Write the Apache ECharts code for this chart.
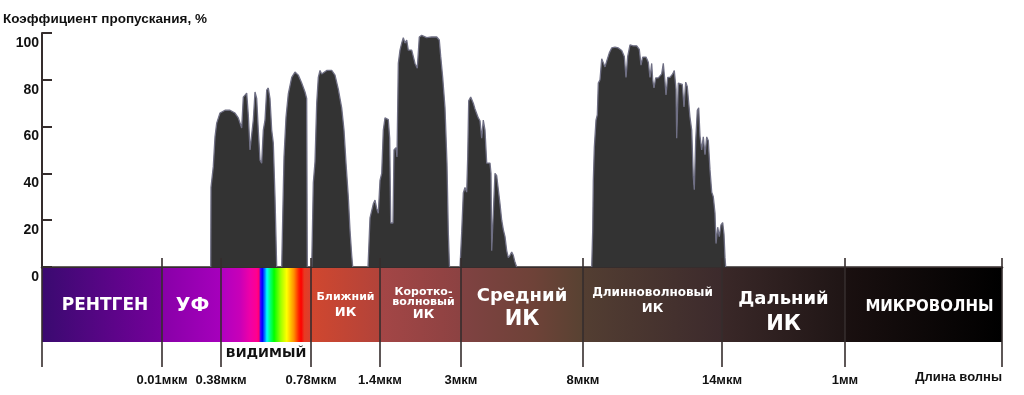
<!DOCTYPE html>
<html>
<head>
<meta charset="utf-8">
<style>
  html, body { margin: 0; padding: 0; background: #ffffff; }
  #chart { width: 1024px; height: 395px; }
</style>
<script src="https://cdn.jsdelivr.net/npm/echarts@6/dist/echarts.min.js"></script>
</head>
<body>
<div id="chart"></div>
<script>
// ---------- DATA ----------
// positions on the chart's (non-uniform) wavelength scale, 0 .. 960
const bandEdges = [0, 120, 179, 269, 338, 419, 541, 680, 803, 960];
const tickLabels = ['', '0.01мкм', '0.38мкм', '0.78мкм', '1.4мкм', '3мкм', '8мкм', '14мкм', '1мм', ''];
const bandNames = ['РЕНТГЕН', 'УФ', 'ВИДИМЫЙ', 'Ближний\nИК', 'Коротко-\nволновый\nИК',
                   'Средний\nИК', 'Длинноволновый\nИК', 'Дальний\nИК', 'МИКРОВОЛНЫ'];
const yTicks = [0, 20, 40, 60, 80, 100];

// transmission curve samples (position on scale, % transmission); null = gap
const samplePos = [
  168.7, 169, 171.3, 173, 174.7, 178, 183, 188, 193, 196.3, 199.7, 201.3, 204.7, 206.3, 208, 209.7,
  211.3, 213, 214.7, 216.3, 218, 219.7, 221.3, 223, 224.7, 226.3, 228, 229.7, 231.3, 233, 234.7,
  null,
  239.7, 240.7, 242, 244, 246.3, 249.7, 253, 256.3, 259.7, 263, 264.7, 265.3,
  null,
  269.7, 271.3, 273, 274.7, 276.3, 278, 279.7, 281.3, 284.7, 289.7, 293, 296.3, 299.7, 302, 304,
  306.3, 308, 309.7, 310.7,
  null,
  326, 328, 331.3, 333, 334.7, 336.3, 338, 339.7, 341.3, 343, 344.7, 346.3, 347.7, 348.7, 351, 352,
  354, 355, 356.3, 358, 359.7, 361.3, 363, 364.7, 366.3, 369.7, 373, 375.3, 377.3, 379.7, 384.7,
  389.7, 394.7, 397.3, 398.7, 400.7, 403, 405, 406.3, 407.5,
  null,
  418, 419.7, 421.3, 423, 424.7, 425.7, 426.7, 428.7, 431.3, 433, 434.7, 436.3, 438, 439.7, 441.3,
  443, 444.7, 448, 449, 449.7, 451.3, 453, 454.7, 456.3, 458, 459.7, 461.3, 463, 464.7, 466.3, 468,
  469.7, 471.3, 473, 474.7,
  null,
  549.7, 550.7, 551.3, 552.3, 554, 555.3, 556.3, 558, 559.7, 561.3, 563, 564.7, 567.3, 569.7, 573,
  576.3, 579.7, 582.3, 584, 585.7, 588, 591.3, 594.7, 597.3, 599, 600.7, 604, 606.3, 608, 609.7,
  610.7, 612, 613.7, 616.3, 619.7, 621.3, 623, 624, 625.7, 628, 630.7, 632.3, 634, 634.7, 636.3,
  638, 640.3, 642, 643.7, 645.3, 648, 649.7, 651.3, 652.3, 653.7, 655.3, 656.7, 658, 659.7, 661.3,
  663, 664.7, 666.3, 668, 669.7, 671.3, 673, 674, 675.7, 677.3, 679, 680.7, 682, 683, 683.7
];
const transmission = [
  0, 34, 43, 55.6, 61.5, 65.8, 67, 67, 65.8, 63.7, 59.4, 72.6, 74.3, 65, 50, 50,
  62.8, 74.8, 72, 58.5, 45.7, 44.4, 58.5, 62.8, 75.6, 76.5, 72, 58.5, 53, 30, 0,
  null,
  0, 21, 47, 64, 74, 81, 83.3, 82, 78.6, 74.8, 72, 0,
  null,
  0, 36, 45, 70, 81, 84, 82.5, 83, 84, 84, 82, 76, 68, 58.5, 44.4,
  30, 15.8, 5, 0,
  null,
  0, 21, 27, 28.6, 25, 23, 37, 40, 58.5, 63.7, 64, 63, 55, 18.8, 18.8, 50,
  51, 47, 87, 92.7, 95.7, 98, 95.7, 97, 92.7, 92.7, 87, 85, 98.3, 99, 98,
  98.3, 98.3, 97, 90, 81, 68, 44, 15, 0,
  null,
  0, 15, 31.6, 34, 32, 47, 71, 72.6, 70, 67.5, 68, 63.7, 62.5, 55, 62.8,
  58.5, 44.4, 44.4, 40, 7, 7, 40, 39, 38.5, 27, 20, 16, 13, 7, 4, 5,
  6.4, 5, 2, 0,
  null,
  0, 15.8, 37, 51, 62.8, 65, 78.6, 80, 89, 89.5, 85.5, 88, 91.5, 93.6, 94,
  93.6, 92.5, 90, 81, 90, 94.9, 94.5, 94.5, 93, 86.3, 89.7, 89.7, 87.5, 81, 87,
  80, 76.5, 80.8, 80.8, 82.5, 87, 79, 73.5, 81, 81, 82.5, 84, 76, 55, 78.6,
  79, 78, 68.4, 79, 77, 64, 58.5, 38.5, 33, 54, 67, 68, 56, 50, 55.6,
  48, 55.6, 54, 41.5, 32, 30, 23, 10, 17, 13, 18, 19, 14, 4, 0
];

// ---------- STYLES ----------
const FONT = '"Liberation Sans", Arial, sans-serif';
const WIDE = '"DejaVu Sans", Verdana, sans-serif';
const AXIS_COLOR = '#352d2d';

function grad(stops) {
  return { type: 'linear', x: 0, y: 0, x2: 1, y2: 0,
    colorStops: stops.map(s => ({ offset: s[0], color: s[1] })) };
}
const bandFills = [
  grad([[0, '#3a0a70'], [1, '#74009a']]),
  grad([[0, '#8800a8'], [1, '#a600bc']]),
  grad([[0, '#b000c0'], [0.21, '#c800b8'], [0.32, '#ee00a8'], [0.40, '#ff0090'], [0.42, '#ff0070'],
        [0.44, '#4000ff'], [0.46, '#0000ff'], [0.49, '#0090ff'], [0.51, '#00ffff'], [0.545, '#00ff80'],
        [0.59, '#00ff00'], [0.665, '#a0ff00'], [0.73, '#ffff00'], [0.81, '#ff9000'], [0.865, '#ff2000'],
        [0.89, '#ff0000'], [0.925, '#e83a22'], [1, '#d84030']]),
  grad([[0, '#d0472f'], [1, '#b2433a']]),
  grad([[0, '#a44646'], [1, '#8c4242']]),
  grad([[0, '#804242'], [0.6, '#6e4238'], [1, '#584232']]),
  grad([[0, '#533e32'], [1, '#3c2a2c']]),
  grad([[0, '#3a2828'], [1, '#1f1515']]),
  grad([[0, '#1a1010'], [1, '#000000']])
];
// per-band label typography: line font sizes, line heights, offset
const bandText = [
  { sizes: [17], lh: [20], off: [3, 1] },
  { sizes: [19], lh: [22], off: [1, 1] },
  null,
  { sizes: [11, 13], lh: [16, 16], off: [0, 0] },
  { sizes: [11, 11, 13], lh: [10, 10, 16], off: [3, 0] },
  { sizes: [18, 21], lh: [24, 24], off: [0, 3] },
  { sizes: [12, 13], lh: [16, 16], off: [0, -4] },
  { sizes: [18, 21], lh: [25, 25], off: [0, 7] },
  { sizes: [15], lh: [18], off: [6, 2] }
];

function bandLabel(i) {
  const name = bandNames[i];
  if (!bandText[i]) {
    return { show: true, position: 'bottom', distance: 5, color: '#111',
      fontFamily: WIDE, fontWeight: 'bold', fontSize: 13, formatter: name };
  }
  const t = bandText[i];
  const lines = name.split('\n');
  const rich = {};
  lines.forEach((l, k) => {
    rich['l' + k] = { fontFamily: WIDE, fontWeight: 'bold', fontSize: t.sizes[k],
      lineHeight: t.lh[k], color: '#ffffff', align: 'center' };
  });
  return { show: true, position: 'inside', offset: t.off,
    formatter: lines.map((l, k) => '{l' + k + '|' + l + '}').join('\n'), rich: rich };
}

const bandAreas = bandNames.map((n, i) => [
  { name: n, xAxis: bandEdges[i], yAxis: 25, itemStyle: { color: bandFills[i], opacity: 1 },
    label: bandLabel(i) },
  { xAxis: bandEdges[i + 1], yAxis: 99 }
]);

const curveData = samplePos.map((x, i) =>
  transmission[i] === null ? ['-', '-'] : [x, transmission[i]]);

const chart = echarts.init(document.getElementById('chart'), null, { renderer: 'canvas' });
chart.setOption({
  animation: false,
  backgroundColor: '#ffffff',
  title: {
    text: 'Коэффициент пропускания, %', left: 3, top: 12, padding: 0,
    textStyle: { fontFamily: FONT, fontWeight: 'bold', fontSize: 13.5, color: '#111' }
  },
  grid: [
    { left: 42, top: 33, width: 960, height: 234 },
    { left: 42, top: 258, width: 960, height: 109 }
  ],
  xAxis: [
    { gridIndex: 0, type: 'value', min: 0, max: 960, position: 'top',
      axisLine: { show: true, lineStyle: { color: AXIS_COLOR, width: 2.5 } },
      axisTick: { show: false }, axisLabel: { show: false }, splitLine: { show: false } },
    { gridIndex: 1, type: 'value', min: 0, max: 960, position: 'bottom',
      axisLine: { show: false }, axisTick: { show: false }, splitLine: { show: false },
      axisLabel: { customValues: bandEdges.slice(1, -1),
        formatter: v => tickLabels[bandEdges.indexOf(v)],
        margin: 7, fontFamily: FONT, fontWeight: 'bold', fontSize: 13, color: '#111' },
      name: 'Длина волны', nameLocation: 'end', nameGap: 0,
      nameTextStyle: { align: 'right', verticalAlign: 'top', padding: [4, 0, 0, 0],
        fontFamily: FONT, fontWeight: 'bold', fontSize: 13, color: '#111' } }
  ],
  yAxis: [
    { gridIndex: 0, type: 'value', min: 0, max: 100, interval: 20,
      axisLine: { show: true, lineStyle: { color: AXIS_COLOR, width: 2 } },
      axisTick: { show: true, inside: true, length: 10, lineStyle: { color: AXIS_COLOR, width: 2 } },
      splitLine: { show: false },
      axisLabel: { margin: 3, verticalAlign: 'top', padding: [3, 0, 0, 0],
        fontFamily: FONT, fontWeight: 'bold', fontSize: 14, color: '#111',
        formatter: v => (yTicks.indexOf(v) >= 0 ? String(v) : '') } },
    { gridIndex: 1, type: 'value', min: 0, max: 109, show: false }
  ],
  series: [
    { type: 'line', xAxisIndex: 0, yAxisIndex: 0, data: curveData, symbol: 'none',
      connectNulls: false, smooth: false, z: 2,
      lineStyle: { color: '#6f6f84', width: 1.3 },
      areaStyle: { color: '#333333', opacity: 1 } },
    { type: 'scatter', xAxisIndex: 1, yAxisIndex: 1, data: [], z: 1,
      markArea: { silent: true, data: bandAreas } },
    { type: 'scatter', xAxisIndex: 1, yAxisIndex: 1, data: [], z: 5,
      markLine: { silent: true, symbol: ['none', 'none'], label: { show: false },
        lineStyle: { color: AXIS_COLOR, width: 1.6, type: 'solid' },
        data: bandEdges.map(v => ({ xAxis: v })) } }
  ]
});
</script>
</body>
</html>
